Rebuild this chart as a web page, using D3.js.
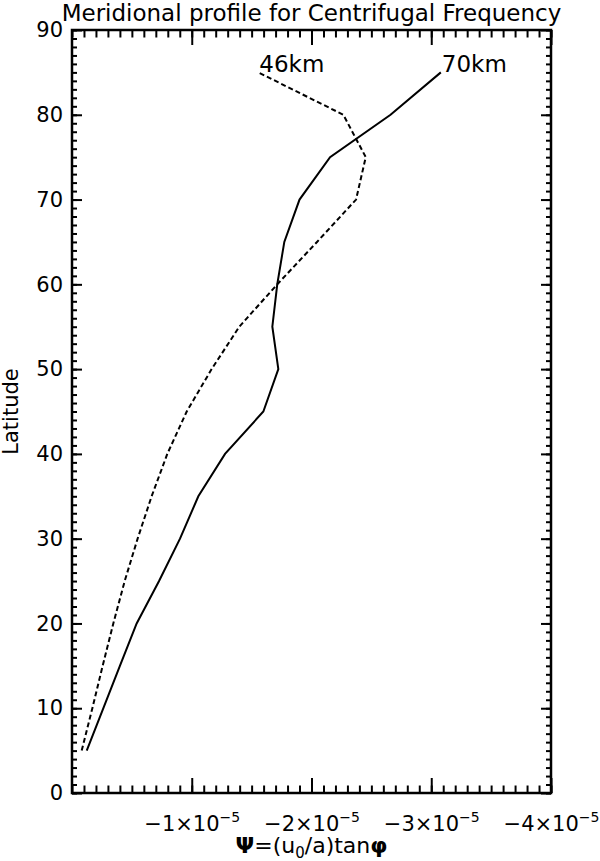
<!DOCTYPE html>
<html>
<head>
<meta charset="utf-8">
<script src="https://cdn.jsdelivr.net/npm/d3@7"></script>
<style>
  body { margin: 0; background: #fff; }
  text { font-family: "DejaVu Sans", sans-serif; fill: #000; }
</style>
</head>
<body>
<svg id="chart" width="600" height="861"></svg>
<script>
// latitudes (deg) and Psi values in units of 1e-5 (plotted as negative numbers)
const latitudes = [5, 10, 15, 20, 25, 30, 35, 40, 45, 50, 55, 60, 65, 70, 75, 80, 85];
const psi70km = [-0.123, -0.262, -0.40, -0.54, -0.727, -0.902, -1.055, -1.278, -1.598, -1.723, -1.673, -1.714, -1.773, -1.90, -2.155, -2.66, -3.08];
const psi46km = [-0.081, -0.17, -0.256, -0.345, -0.44, -0.548, -0.665, -0.796, -0.958, -1.166, -1.397, -1.714, -2.046, -2.372, -2.453, -2.266, -1.556];
const seriesNames = ['70km', '46km'];
const latTicks = [0, 10, 20, 30, 40, 50, 60, 70, 80, 90];
const psiTicks = [-1, -2, -3, -4];
const psiTickLabels = ['\u22121\u00d710', '\u22122\u00d710', '\u22123\u00d710', '\u22124\u00d710'];
const psiExponent = '\u22125';
const unit = 1e-5;

const margin = { top: 30, right: 49, bottom: 68, left: 72 };
const width = 600 - margin.left - margin.right;
const height = 861 - margin.top - margin.bottom;

const svg = d3.select('#chart');
const g = svg.append('g').attr('transform', `translate(${margin.left},${margin.top})`);

const x = d3.scaleLinear().domain([0, -4 * unit]).range([0, width]);
const y = d3.scaleLinear().domain([0, 90]).range([height, 0]);

const minorLat = d3.range(0, 91);
const minorPsi = d3.range(0, 41).map(i => -i * unit / 10);
const noDomain = sel => sel.select('.domain').remove();

// y axes, left and right, ticks pointing inward
g.append('g').call(d3.axisLeft(y).tickValues(minorLat).tickSize(-5).tickFormat('')).call(noDomain);
g.append('g').attr('class', 'ylab')
  .call(d3.axisLeft(y).tickValues(latTicks).tickSize(-10).tickPadding(9).tickFormat(d3.format('d')))
  .call(noDomain);
g.append('g').attr('transform', `translate(${width},0)`)
  .call(d3.axisRight(y).tickValues(minorLat).tickSize(-5).tickFormat('')).call(noDomain);
g.append('g').attr('transform', `translate(${width},0)`)
  .call(d3.axisRight(y).tickValues(latTicks).tickSize(-10).tickFormat('')).call(noDomain);

// x axes, bottom and top
g.append('g').attr('transform', `translate(0,${height})`)
  .call(d3.axisBottom(x).tickValues(minorPsi).tickSize(-7.5).tickFormat('')).call(noDomain);
g.append('g').attr('class', 'xlab').attr('transform', `translate(0,${height})`)
  .call(d3.axisBottom(x).tickValues(psiTicks.map(d => d * unit)).tickSize(-15).tickFormat('')).call(noDomain);
g.append('g')
  .call(d3.axisTop(x).tickValues(minorPsi).tickSize(-7.5).tickFormat('')).call(noDomain);
g.append('g')
  .call(d3.axisTop(x).tickValues(psiTicks.map(d => d * unit)).tickSize(-15).tickFormat('')).call(noDomain);

g.selectAll('.tick line').attr('stroke', '#000').attr('stroke-width', 2);
g.selectAll('.ylab text').attr('font-size', 21).attr('font-family', '"DejaVu Sans", sans-serif');

// x tick labels with exponent
g.selectAll('.xlab .tick').each(function (d, i) {
  const t = d3.select(this).select('text')
    .attr('y', 38).attr('dy', null)
    .attr('font-size', 21).attr('font-family', '"DejaVu Sans", sans-serif');
  t.text(null);
  t.append('tspan').text(psiTickLabels[i]);
  t.append('tspan').attr('dy', -9).attr('font-size', 14).text(psiExponent);
});

// frame
g.append('rect')
  .attr('width', width).attr('height', height)
  .attr('fill', 'none').attr('stroke', '#000').attr('stroke-width', 2.5);

// lines
const line = d3.line().x(d => x(d[0] * unit)).y(d => y(d[1]));
const series = [
  { name: seriesNames[0], values: psi70km, dash: null },
  { name: seriesNames[1], values: psi46km, dash: '5,3' }
];
series.forEach(s => {
  const pts = s.values.map((v, i) => [v, latitudes[i]]);
  g.append('path')
    .datum(pts)
    .attr('fill', 'none')
    .attr('stroke', '#000')
    .attr('stroke-width', 2)
    .attr('stroke-dasharray', s.dash)
    .attr('d', line);
  const last = pts[pts.length - 1];
  g.append('text')
    .attr('x', x(last[0] * unit) + 1)
    .attr('y', y(last[1]))
    .attr('font-size', 23)
    .text(s.name);
});

// title
svg.append('text')
  .attr('x', margin.left + width / 2)
  .attr('y', 21)
  .attr('text-anchor', 'middle')
  .attr('font-size', 23)
  .text('Meridional profile for Centrifugal Frequency');

// y label
svg.append('text')
  .attr('transform', `translate(18,${margin.top + height / 2}) rotate(-90)`)
  .attr('text-anchor', 'middle')
  .attr('font-size', 21)
  .text('Latitude');

// x label
const xl = svg.append('text')
  .attr('x', margin.left + width / 2)
  .attr('y', 853)
  .attr('text-anchor', 'middle')
  .attr('font-size', 22);
xl.append('tspan').attr('font-weight', 'bold').text('\u03a8');
xl.append('tspan').text('=(u');
xl.append('tspan').attr('dy', 5).attr('font-size', 15).text('0');
xl.append('tspan').attr('dy', -5).text('/a)tan');
xl.append('tspan').attr('font-weight', 'bold').text('\u03c6');
</script>
</body>
</html>
